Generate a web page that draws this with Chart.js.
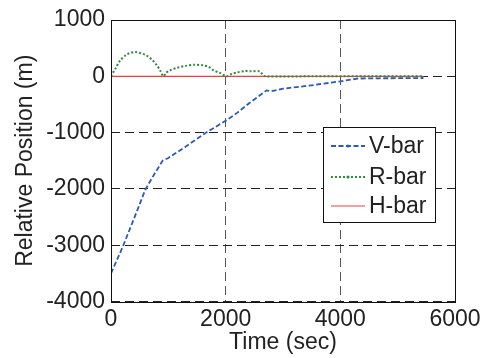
<!DOCTYPE html>
<html>
<head>
<meta charset="utf-8">
<script src="https://cdn.jsdelivr.net/npm/chart.js@4/dist/chart.umd.min.js"></script>
<style>
  html, body { margin: 0; padding: 0; background: #fff; }
  #wrap { width: 485px; height: 358px; }
</style>
</head>
<body>
<div id="wrap"><canvas id="grafica" width="485" height="358"></canvas></div>
<script>
// Datos (tiempo en s, posicion en m)
var vbarTime = [0, 200, 420, 600, 760, 900, 1000, 1300, 1660, 2000, 2200, 2420, 2715, 2800, 3000, 3500, 4000, 4300, 4800, 5450];
var vbarPos  = [-3500, -3040, -2480, -2010, -1730, -1500, -1450, -1250, -1000, -790, -650, -470, -250, -265, -220, -160, -90, -40, -35, -30];

var rbarTime = [0, 80, 160, 250, 330, 420, 520, 620, 720, 800, 860, 912, 960, 1030, 1150, 1300, 1465, 1600, 1700, 1790, 1900, 2017, 2100, 2200, 2330, 2450, 2590, 2640, 2685, 3500, 4500, 5450];
var rbarPos  = [0, 140, 280, 370, 415, 430, 410, 370, 290, 195, 100, 0, 60, 105, 150, 185, 205, 195, 170, 105, 60, 0, 40, 70, 92, 90, 88, 40, 0, 0, 0, 0];

var hbarTime = [0, 5450];
var hbarPos  = [0, 0];

var etiquetas = ['V-bar', 'R-bar', 'H-bar'];
var colores = ['#2a5bb8', '#2e8b40', '#ee4040'];

var xTicks = [0, 2000, 4000, 6000];
var yTicks = [-4000, -3000, -2000, -1000, 0, 1000];

var fuente = 'Liberation Sans, Arial, Helvetica, sans-serif';
var tam = 23;

function puntos(xs, ys) {
    return xs.map(function (x, i) { return { x: x, y: ys[i] }; });
}

// Caja del grafico y leyenda dibujadas a mano
var cajaPlugin = {
    id: 'caja',
    afterDraw: function (chart) {
        var ctx = chart.ctx;
        var a = chart.chartArea;
        ctx.save();
        ctx.strokeStyle = '#111';
        ctx.lineWidth = 1;
        ctx.setLineDash([]);
        ctx.strokeRect(Math.round(a.left) + 0.5, Math.round(a.top) + 0.5,
            Math.round(a.right - a.left), Math.round(a.bottom - a.top));

        // leyenda
        var bx = 323.5, by = 127.5, bw = 112, bh = 95;
        ctx.fillStyle = '#fff';
        ctx.fillRect(bx, by, bw, bh);
        ctx.strokeRect(bx, by, bw, bh);
        var filas = [146, 177, 206];
        ctx.font = tam + 'px ' + fuente;
        ctx.textBaseline = 'middle';
        ctx.textAlign = 'left';
        chart.data.datasets.forEach(function (ds, i) {
            var y = filas[i];
            ctx.strokeStyle = ds.borderColor;
            ctx.lineWidth = ds.borderWidth;
            ctx.setLineDash(ds.borderDash || []);
            ctx.beginPath();
            ctx.moveTo(331, y);
            ctx.lineTo(365, y);
            ctx.stroke();
            if (i < 2) {
                ctx.fillStyle = ds.borderColor;
                ctx.beginPath();
                ctx.arc(348, y, 1.6, 0, Math.PI * 2);
                ctx.fill();
            }
            ctx.setLineDash([]);
            ctx.fillStyle = '#222';
            ctx.fillText(ds.label, 369, y + 1);
        });
        ctx.restore();
    }
};

var ctx = document.getElementById('grafica').getContext('2d');
var grafica = new Chart(ctx, {
    type: 'line',
    data: {
        datasets: [{
            label: etiquetas[0],
            data: puntos(vbarTime, vbarPos),
            borderColor: colores[0],
            borderWidth: 1.8,
            borderDash: [5, 2.5],
            pointRadius: 0,
            fill: false,
            tension: 0
        }, {
            label: etiquetas[1],
            data: puntos(rbarTime, rbarPos),
            borderColor: colores[1],
            borderWidth: 2,
            borderDash: [2, 2],
            pointRadius: 0,
            fill: false,
            tension: 0.3
        }, {
            label: etiquetas[2],
            data: puntos(hbarTime, hbarPos),
            borderColor: colores[2],
            borderWidth: 1.2,
            pointRadius: 0,
            fill: false
        }]
    },
    options: {
        responsive: false,
        animation: false,
        layout: { padding: { top: 20, right: 30, left: 0, bottom: 0 } },
        plugins: {
            legend: { display: false },
            tooltip: { enabled: false }
        },
        scales: {
            x: {
                type: 'linear',
                min: 0,
                max: 6000,
                afterBuildTicks: function (s) { s.ticks = xTicks.map(function (v) { return { value: v }; }); },
                afterFit: function (s) { s.height = 56.5; },
                ticks: { color: '#222', padding: 4, font: { size: tam, family: fuente }, callback: function (v) { return String(v); } },
                grid: { color: '#555', lineWidth: 1, drawTicks: false },
                border: { display: false, dash: [9, 5] },
                title: { display: true, text: 'Time (sec)', color: '#222', padding: { top: 0, bottom: 2 }, font: { size: tam, family: fuente } }
            },
            y: {
                min: -4000,
                max: 1000,
                afterBuildTicks: function (s) { s.ticks = yTicks.map(function (v) { return { value: v }; }); },
                afterFit: function (s) { s.width = 111; },
                ticks: { color: '#222', padding: 6, font: { size: tam, family: fuente }, callback: function (v) { return String(v); } },
                grid: { color: '#222', lineWidth: 1, drawTicks: false },
                border: { display: false, dash: [9, 5] },
                title: { display: true, text: 'Relative Position (m)', color: '#222', padding: { top: 12, bottom: 0 }, font: { size: tam, family: fuente } }
            }
        }
    },
    plugins: [cajaPlugin]
});
</script>
</body>
</html>
